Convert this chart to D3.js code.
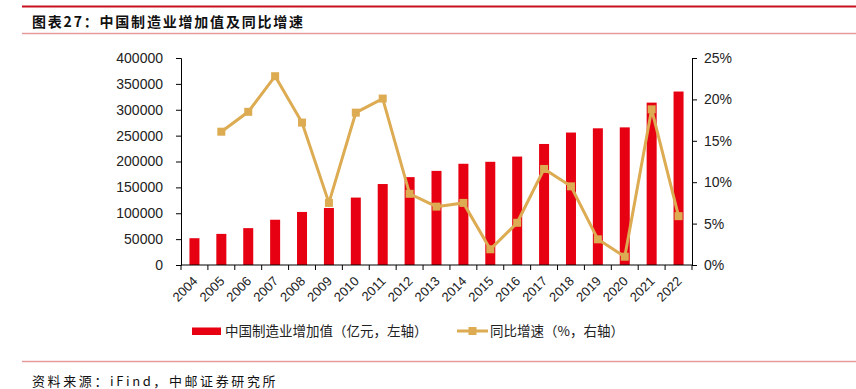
<!DOCTYPE html>
<html>
<head>
<meta charset="utf-8">
<script src="https://cdn.jsdelivr.net/npm/d3@7"></script>
<style>
  body { margin: 0; background: #fff; }
  svg text { font-family: "Liberation Sans", Arial, sans-serif; }
  .cjk { font-family: "Noto Sans CJK SC", sans-serif; }
</style>
</head>
<body>
<svg id="chart" width="856" height="389"></svg>
<script>
  'use strict';

  var years = ['2004', '2005', '2006', '2007', '2008', '2009', '2010', '2011', '2012', '2013',
    '2014', '2015', '2016', '2017', '2018', '2019', '2020', '2021', '2022'];
  var valueAdded = [51748, 60118, 71213, 87465, 102539, 110118, 130282, 156457, 169807, 181868,
    195620, 199436, 209509, 233877, 255937, 264137, 265944, 313797, 335215];
  var growth = [null, 16.1, 18.5, 22.8, 17.2, 7.5, 18.4, 20.1, 8.6, 7.05,
    7.5, 1.9, 5.1, 11.6, 9.5, 3.1, 1.0, 18.8, 5.9];
  var leftTicks = [0, 50000, 100000, 150000, 200000, 250000, 300000, 350000, 400000];
  var rightTicks = [0, 5, 10, 15, 20, 25];

  (function() {
    var red = '#e60012';
    var gold = '#dcab52';
    var $svg = d3.select('#chart');

    // header and footer rules
    $svg.append('line').attr('x1', 22).attr('x2', 856).attr('y1', 6.5).attr('y2', 6.5)
      .attr('stroke', '#c8101e').attr('stroke-width', 2);
    $svg.append('text').attr('class', 'cjk').attr('x', 32).attr('y', 27)
      .attr('font-size', 14).attr('font-weight', 'bold').attr('fill', '#111')
      .attr('letter-spacing', 1.8)
      .text('图表27：中国制造业增加值及同比增速');
    $svg.append('line').attr('x1', 22).attr('x2', 856).attr('y1', 33.5).attr('y2', 33.5)
      .attr('stroke', '#e79a9a').attr('stroke-width', 1.5);
    $svg.append('line').attr('x1', 22).attr('x2', 856).attr('y1', 361.5).attr('y2', 361.5)
      .attr('stroke', '#e79a9a').attr('stroke-width', 1.5);
    $svg.append('text').attr('class', 'cjk').attr('x', 32).attr('y', 386)
      .attr('font-size', 13).attr('fill', '#111')
      .attr('letter-spacing', 2.6)
      .text('资料来源：iFind，中邮证券研究所');

    var left = 181, right = 692, plotTop = 58, bottom = 265;

    var x = d3.scaleBand().domain(years).range([left, right]);
    var yL = d3.scaleLinear().domain([0, 400000]).range([bottom, plotTop]);
    var yR = d3.scaleLinear().domain([0, 25]).range([bottom, plotTop]);

    // bars
    var barW = 10;
    $svg.selectAll('rect.bar')
      .data(years)
      .enter()
      .append('rect')
      .attr('class', 'bar')
      .attr('x', function(d) { return x(d) + x.bandwidth() / 2 - barW / 2; })
      .attr('y', function(d, i) { return yL(valueAdded[i]); })
      .attr('width', barW)
      .attr('height', function(d, i) { return bottom - yL(valueAdded[i]); })
      .attr('fill', red);

    // axes
    function styleAxis(g) {
      g.select('.domain').attr('stroke', '#000');
      g.selectAll('.tick line').attr('stroke', '#000');
      g.selectAll('.tick text').attr('fill', '#222').attr('font-size', 14);
    }

    $svg.append('g').attr('transform', 'translate(' + left + ',0)')
      .call(d3.axisLeft(yL).tickValues(leftTicks).tickSize(5).tickSizeOuter(5).tickPadding(13)
        .tickFormat(d3.format('d')))
      .call(styleAxis);

    $svg.append('g').attr('transform', 'translate(' + right + ',0)')
      .call(d3.axisRight(yR).tickValues(rightTicks).tickSize(5).tickSizeOuter(5).tickPadding(7)
        .tickFormat(function(d) { return d + '%'; }))
      .call(styleAxis);

    var xAxis = $svg.append('g').attr('transform', 'translate(0,' + bottom + ')');
    xAxis.append('line').attr('x1', left).attr('x2', right).attr('stroke', '#000');
    xAxis.selectAll('line.tk')
      .data(years.concat(['end']))
      .enter()
      .append('line')
      .attr('class', 'tk')
      .attr('x1', function(d, i) { return left + i * x.step(); })
      .attr('x2', function(d, i) { return left + i * x.step(); })
      .attr('y1', 0).attr('y2', 5)
      .attr('stroke', '#000');
    xAxis.selectAll('text.yr')
      .data(years)
      .enter()
      .append('text')
      .attr('class', 'yr')
      .attr('text-anchor', 'end')
      .attr('font-size', 13)
      .attr('fill', '#222')
      .attr('transform', function(d) {
        return 'translate(' + (x(d) + x.bandwidth() / 2 + 4) + ',17) rotate(-45)';
      })
      .text(function(d) { return d; });

    // growth line
    var pts = years.map(function(d, i) { return { year: d, v: growth[i] }; })
      .filter(function(d) { return d.v !== null; });
    var line = d3.line()
      .x(function(d) { return x(d.year) + x.bandwidth() / 2; })
      .y(function(d) { return yR(d.v); });
    $svg.append('path').datum(pts)
      .attr('d', line)
      .attr('fill', 'none')
      .attr('stroke', gold)
      .attr('stroke-width', 3);
    $svg.selectAll('rect.mk')
      .data(pts)
      .enter()
      .append('rect')
      .attr('class', 'mk')
      .attr('x', function(d) { return x(d.year) + x.bandwidth() / 2 - 4; })
      .attr('y', function(d) { return yR(d.v) - 4; })
      .attr('width', 8).attr('height', 8)
      .attr('fill', gold);

    // legend
    var lg = $svg.append('g');
    lg.append('rect').attr('x', 192).attr('y', 327.5).attr('width', 29).attr('height', 7.5).attr('fill', red);
    lg.append('text').attr('class', 'cjk').attr('x', 225).attr('y', 336)
      .attr('font-size', 13.5).attr('fill', '#222').text('中国制造业增加值（亿元，左轴）');
    lg.append('line').attr('x1', 457).attr('x2', 488).attr('y1', 331).attr('y2', 331)
      .attr('stroke', gold).attr('stroke-width', 3);
    lg.append('rect').attr('x', 468.5).attr('y', 327).attr('width', 8).attr('height', 8).attr('fill', gold);
    lg.append('text').attr('class', 'cjk').attr('x', 490).attr('y', 336)
      .attr('font-size', 13.5).attr('fill', '#222').text('同比增速（%，右轴）');
  })();
</script>
</body>
</html>
